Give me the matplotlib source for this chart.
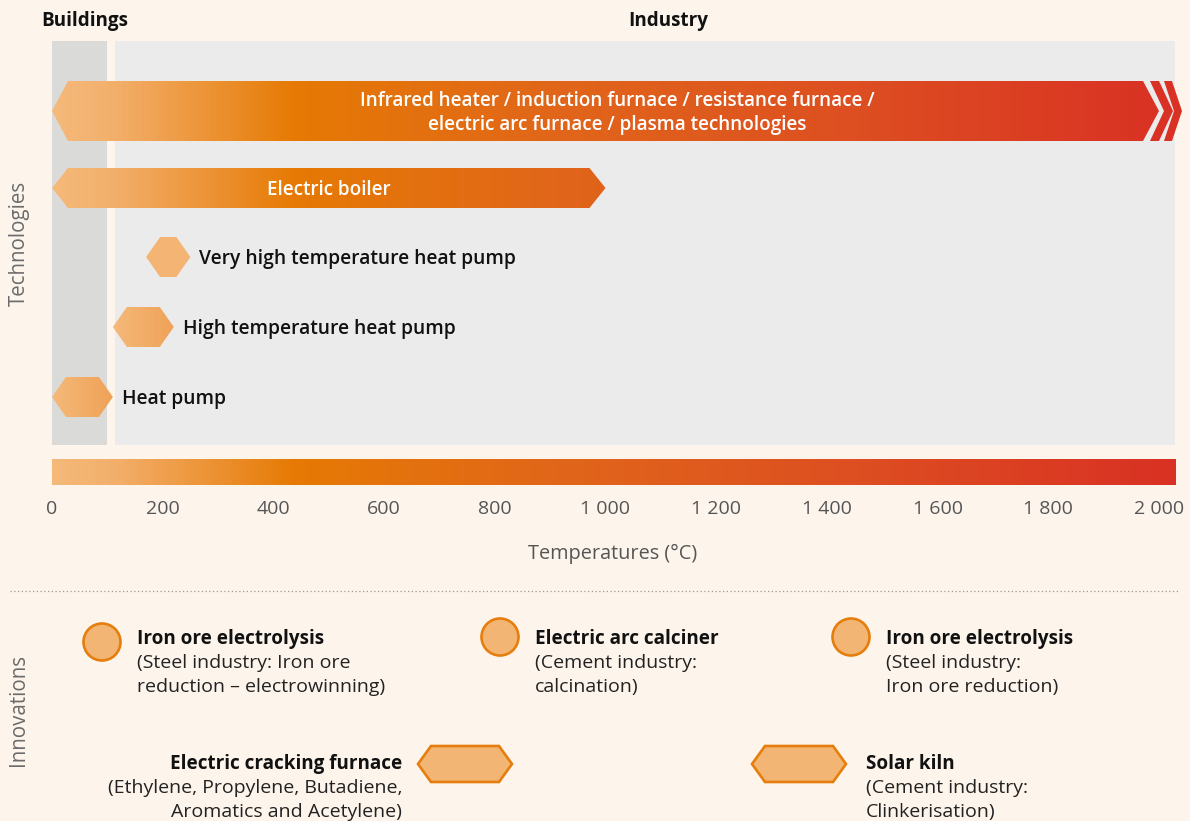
import numpy as np
import matplotlib
matplotlib.use('Agg')
from matplotlib import pyplot as plt
from matplotlib.colors import LinearSegmentedColormap, Normalize
from matplotlib.patches import Polygon, Rectangle, Ellipse
from matplotlib.lines import Line2D

plt.rcParams['font.family'] = ['Open Sans', 'DejaVu Sans']

# ---------------- data ----------------
tech_labels = [
    ['Infrared heater / induction furnace / resistance furnace /',
     'electric arc furnace / plasma technologies'],
    ['Electric boiler'],
    ['Very high temperature heat pump'],
    ['High temperature heat pump'],
    ['Heat pump'],
]
tech_min = [0, 0, 170, 110, 0]       # deg C
tech_max = [2000, 1000, 250, 220, 110]
tech_kind = ['arrow_open', 'arrow', 'hex_flat', 'hex', 'hex']

buildings_range = [0, 100]
industry_range = [114, 2029]
temp_ticks = [0, 200, 400, 600, 800, 1000, 1200, 1400, 1600, 1800, 2000]
sector_labels = ['Buildings', 'Industry']

innov_titles = ['Iron ore electrolysis', 'Electric arc calciner', 'Iron ore electrolysis',
                'Electric cracking furnace', 'Solar kiln']
innov_notes = [
    ['(Steel industry: Iron ore', 'reduction \u2013 electrowinning)'],
    ['(Cement industry:', 'calcination)'],
    ['(Steel industry:', 'Iron ore reduction)'],
    ['(Ethylene, Propylene, Butadiene,', 'Aromatics and Acetylene)'],
    ['(Cement industry:', 'Clinkerisation)'],
]
innov_shapes = ['circle', 'circle', 'circle', 'hex', 'hex']

# ---------------- layout / style ----------------
W, H = 1190, 821
BG = '#fdf5ec'
X0 = 52                      # px of 0 deg C
PX = 1107 / 2000             # px per deg C
XMAX = 2050
Y_TOP, Y_BOT = 41, 485       # main axes extent in px from top
DY = 2                       # text baseline nudge (px)

row_y = [111, 188, 257, 327, 397]
row_h = [30, 20, 20, 20, 20]

grad_cmap = LinearSegmentedColormap.from_list('heat', [
    (0.0, '#f5b97a'), (0.05, '#f3b06d'), (0.214, '#e67a04'),
    (0.45, '#e1661a'), (0.72, '#dd4e21'), (1.0, '#d93124')])
hex_cmap = LinearSegmentedColormap.from_list('hex', ['#f5b97a', '#efa257'])
norm = Normalize(0, 2029)

FS = 14          # regular text
FS_B = 13.6      # bold / semibold text
GRAY = '#6b6b6b'


def fx(px):
    return px / W


def fy(py):
    return 1 - py / H


def deg(px):
    return px / PX


def hexagon(x0, x1, yc, h, dx):
    return [(x0, yc), (x0 + dx, yc - h), (x1 - dx, yc - h), (x1, yc),
            (x1 - dx, yc + h), (x0 + dx, yc + h)]


def gradient_fill(ax, poly, x0, x1, yc, h, cmap, nrm):
    vals = np.linspace(x0, x1, 600)[None, :]
    im = ax.imshow(vals, cmap=cmap, norm=nrm, extent=(x0, x1, yc + h, yc - h),
                   aspect='auto', interpolation='bilinear', zorder=3)
    im.set_clip_path(poly)


fig = plt.figure(figsize=(W / 100, H / 100), dpi=100, facecolor=BG)

ax = fig.add_axes([fx(X0), fy(Y_BOT), XMAX * PX / W, (Y_BOT - Y_TOP) / H])
ax.set_facecolor('none')
for s in ax.spines.values():
    s.set_visible(False)

# sector panels
ax.add_patch(Rectangle((buildings_range[0], 41), buildings_range[1] - buildings_range[0], 404,
                       facecolor='#dadad8', edgecolor='none', zorder=1))
ax.add_patch(Rectangle((industry_range[0], 41), industry_range[1] - industry_range[0], 404,
                       facecolor='#ebebeb', edgecolor='none', zorder=1))

# temperature gradient bar
bar_vals = np.linspace(0, 2029, 1000)[None, :]
ax.imshow(bar_vals, cmap=grad_cmap, norm=norm, extent=(0, 2029, 485, 459),
          aspect='auto', interpolation='bilinear', zorder=2)

# technologies
for label, t0, t1, kind, yc, h in zip(tech_labels, tech_min, tech_max, tech_kind, row_y, row_h):
    if kind.startswith('arrow'):
        pts = hexagon(t0, t1, yc, h, deg(16))
        poly = Polygon(pts, closed=True, facecolor='none', edgecolor='none', zorder=3)
        ax.add_patch(poly)
        gradient_fill(ax, poly, t0, t1 + 60, yc, h, grad_cmap, norm)
        if kind == 'arrow_open':
            # continuation chevrons
            tr = t1 - deg(14)
            for k in range(2):
                a = tr + deg(5 + 14 * k)
                w = deg(9 if k == 0 else 8)
                d = deg(14 if k == 0 else 10)
                chev = [(a, yc - h), (a + w, yc - h), (a + w + d, yc), (a + w, yc + h),
                        (a, yc + h), (a + d, yc)]
                ax.add_patch(Polygon(chev, closed=True, facecolor='#d93124',
                                     edgecolor='none', zorder=3))
        cx = (t0 + t1) / 2 + (deg(12) if kind == 'arrow_open' else 0)
        n = len(label)
        for i, line in enumerate(label):
            ax.text(cx, yc + DY + (i - (n - 1) / 2) * 24, line, color='white', fontsize=FS_B,
                    fontweight='semibold', ha='center', va='center', zorder=5)
    else:
        pts = hexagon(t0, t1, yc, h, deg(14))
        if kind == 'hex_flat':
            ax.add_patch(Polygon(pts, closed=True, facecolor='#f4b574', edgecolor='none', zorder=3))
        else:
            poly = Polygon(pts, closed=True, facecolor='none', edgecolor='none', zorder=3)
            ax.add_patch(poly)
            gradient_fill(ax, poly, t0, t1, yc, h, hex_cmap, Normalize(t0, t1))
        ax.text(t1 + deg(9), yc + DY, label[0], color='#111111', fontsize=FS_B + 0.3,
                fontweight='semibold', ha='left', va='center', zorder=5)

ax.set_xlim(0, XMAX)
ax.set_ylim(Y_BOT, Y_TOP)
ax.set_yticks([])
ax.set_xticks(temp_ticks)
ax.set_xticklabels([f'{t:,}'.replace(',', ' ') for t in temp_ticks])
ax.tick_params(axis='x', length=0, pad=11, labelsize=FS, labelcolor='#555555')
ax.set_xlabel('Temperatures (\u00b0C)', fontsize=FS + 0.3, color='#555555', va='center')
ax.xaxis.set_label_coords(fx(613), fy(552 + DY), transform=fig.transFigure)

# sector titles
fig.text(fx(41), fy(19 + DY), sector_labels[0], fontsize=FS_B, fontweight='bold', color='#111111',
         ha='left', va='center')
fig.text(fx(668), fy(19 + DY), sector_labels[1], fontsize=FS_B, fontweight='bold', color='#111111',
         ha='center', va='center')

# side labels
fig.text(fx(19), fy(243), 'Technologies', rotation=90, fontsize=14.8, color=GRAY,
         ha='center', va='center')
fig.text(fx(19), fy(710), 'Innovations', rotation=90, fontsize=14.8, color=GRAY,
         ha='center', va='center')

# divider
fig.add_artist(Line2D([fx(10), fx(1180)], [fy(591), fy(591)], transform=fig.transFigure,
                      color='#9a9a9a', lw=0.9, linestyle=(0, (1, 2))))

# innovations
ax2 = fig.add_axes([0, 0, 1, 1])
ax2.set_xlim(0, W)
ax2.set_ylim(H, 0)
ax2.axis('off')

marker_xy = [(102, 642), (500, 637), (851, 637), (465, 764), (799, 764)]
text_anchor = [(137, 637, 'left'), (535, 637, 'left'), (886, 637, 'left'),
               (402, 762, 'right'), (866, 762, 'left')]
FILL, EDGE = '#f3b574', '#e67e0e'
for title, notes, shape, (mx, my), (tx, ty, ha) in zip(innov_titles, innov_notes, innov_shapes,
                                                       marker_xy, text_anchor):
    if shape == 'circle':
        ax2.add_patch(Ellipse((mx, my), 37, 37, facecolor=FILL, edgecolor=EDGE, lw=1.9))
    else:
        ax2.add_patch(Polygon(hexagon(mx - 47, mx + 47, my, 18, 13), closed=True,
                              facecolor=FILL, edgecolor=EDGE, lw=1.9))
    ax2.text(tx, ty + DY, title, fontsize=FS_B, fontweight='bold', color='#111111', ha=ha, va='center')
    for i, line in enumerate(notes):
        ax2.text(tx, ty + DY + 24 * (i + 1), line, fontsize=FS, color='#222222', ha=ha, va='center')

fig.savefig('out.png', dpi=100, facecolor=BG)
